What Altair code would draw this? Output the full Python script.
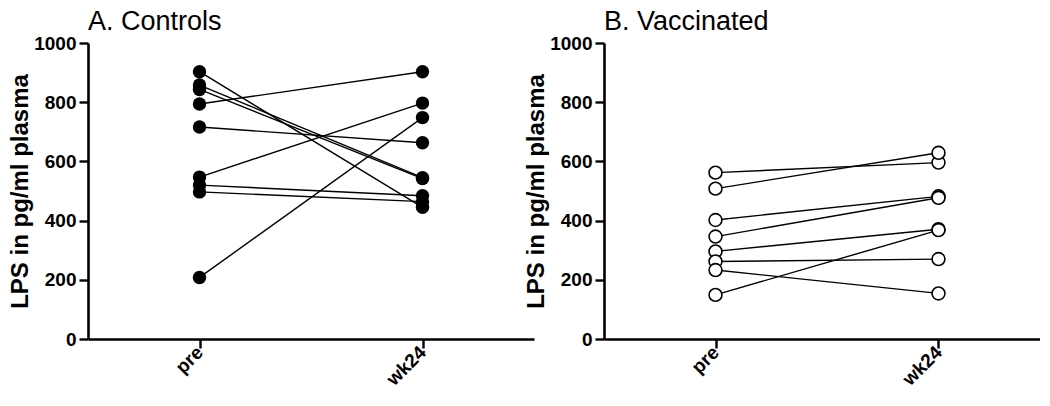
import altair as alt
import pandas as pd

categories = ["pre", "wk24"]
controls_pre = [903, 858, 843, 794, 716, 547, 520, 497, 208]
controls_wk24 = [445, 545, 542, 903, 663, 797, 484, 464, 748]
vacc_pre = [562, 508, 402, 346, 296, 262, 233, 149]
vacc_wk24 = [596, 629, 482, 477, 371, 270, 154, 368]
y_ticks = [0, 200, 400, 600, 800, 1000]
panel_titles = ["A. Controls", "B. Vaccinated"]
y_title = "LPS in pg/ml plasma"

FONT = "Liberation Sans"
label_expr = " : ".join(
    [f"datum.value == {i} ? '{c}'" for i, c in enumerate(categories[:-1])]
) + f" : '{categories[-1]}'"


def make_df(pre, post):
    rows = []
    for sid, (a, b) in enumerate(zip(pre, post)):
        rows.append({"sid": sid, "t": 0, "value": a})
        rows.append({"sid": sid, "t": 1, "value": b})
    return pd.DataFrame(rows)


def panel(pre, post, filled, title, width, xmax):
    df = make_df(pre, post)
    x = alt.X(
        "t:Q",
        scale=alt.Scale(domain=[-0.5, xmax], nice=False, zero=False),
        axis=alt.Axis(
            values=[0, 1],
            labelExpr=label_expr,
            title=None,
            labelAngle=-45,
            labelAlign="right",
            labelBaseline="middle",
            labelPadding=1,
            labelFontSize=19,
            tickSize=9,
        ),
    )
    y = alt.Y(
        "value:Q",
        scale=alt.Scale(domain=[0, 1000], nice=False),
        axis=alt.Axis(
            values=y_ticks,
            format="d",
            title=y_title,
            tickSize=9,
            labelPadding=3,
            labelFontSize=19,
            titlePadding=1,
            titleFontSize=24,
            titleFontWeight="bold",
            titleFont=FONT,
            titleColor="black",
        ),
    )
    lines = alt.Chart(df).mark_line(color="black", strokeWidth=1.4).encode(
        x=x, y=y, detail="sid:N"
    )
    if filled:
        pts = alt.Chart(df).mark_point(
            shape="circle", filled=True, color="black", size=180, opacity=1
        ).encode(x=x, y=y)
    else:
        pts = alt.Chart(df).mark_point(
            shape="circle", filled=True, fill="white", stroke="black",
            strokeWidth=1.6, size=165, opacity=1
        ).encode(x=x, y=y)
    return alt.layer(lines, pts).properties(
        width=width,
        height=296,
        title=alt.TitleParams(
            title, anchor="start", fontSize=27, fontWeight="normal",
            font=FONT, color="black", offset=-2, frame="group",
        ),
    )


a = panel(controls_pre, controls_wk24, True, panel_titles[0], 446, 1.5)
b = panel(vacc_pre, vacc_wk24, False, panel_titles[1], 436, -0.5 + 436 / 223)

chart = alt.hconcat(a, b, spacing=-10).configure_view(stroke=None).configure_axis(
    grid=False,
    domainColor="black",
    domainWidth=2.6,
    tickColor="black",
    tickWidth=2.4,
    labelColor="black",
    labelFont=FONT,
    labelFontWeight="bold",
).properties(padding=0, background="white")

chart.save("out.html", embed_options={"renderer": "svg", "actions": False})
